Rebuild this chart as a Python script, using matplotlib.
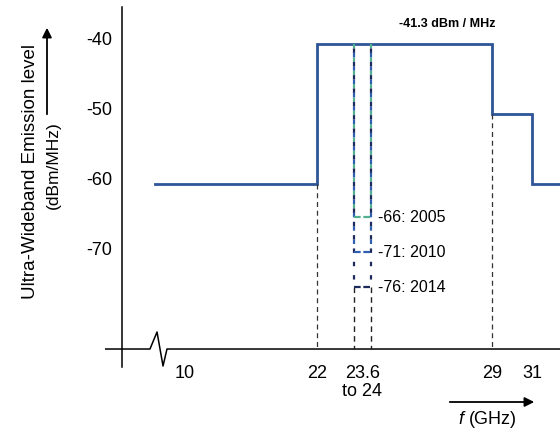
import numpy as np
import matplotlib.pyplot as plt

plt.rcParams['font.family'] = ['Liberation Sans', 'DejaVu Sans']
plt.rcParams['mathtext.fontset'] = 'custom'
plt.rcParams['mathtext.it'] = 'Liberation Sans:italic'
plt.rcParams['mathtext.rm'] = 'Liberation Sans'

# emission mask (GHz, dBm/MHz)
mask_edges = [5.24, 22, 29, 31, 34]
mask_levels = [-61.3, -41.3, -51.3, -61.3]

# 23.6 - 24 GHz protected band, level per year
band = [23.6, 24.0]
band_levels = [-66, -71, -76]
band_years = ['2005', '2010', '2014']
band_colors = ['#52b08e', '#2f5fae', '#1d2a5c']

x_ticks = [10, 22, 23.8, 29, 31]
x_labels = ['10', '22', '23.6\nto 24', '29', '31']
y_ticks = [-40, -50, -60, -70]

axis_level = -84.87

# schematic (non linear) frequency axis
f_anchor = [-21, 0, 10, 22, 23.6, 24, 29, 31, 33]
p_anchor = [0, 122, 185, 317, 354, 371, 492, 532, 560]


def fwd(f):
    return np.interp(f, f_anchor, p_anchor)


def inv(p):
    return np.interp(p, p_anchor, f_anchor)


fig = plt.figure(figsize=(5.6, 4.31), dpi=100)
ax = fig.add_axes([0, 0, 1, 1])
ax.set_xscale('function', functions=(fwd, inv))
ax.set_xlim(f_anchor[0], f_anchor[-1])
ax.set_ylim(-96.44, -34.87)
ax.axis('off')

# axes with break symbol
brk_f = [-2.8, 4.44, 5.56, 6.51, 7.14, 33]
brk_v = [axis_level, axis_level, -82.44, -87.3, axis_level, axis_level]
ax.plot(brk_f, brk_v, color='black', lw=1.1)
ax.plot([0, 0], [-87.4, -36.0], color='black', lw=1.1)

# main mask
xs, ys = [], []
for i, lv in enumerate(mask_levels):
    xs += [mask_edges[i], mask_edges[i + 1]]
    ys += [lv, lv]
ax.plot(xs, ys, color='#2e5597', lw=2.0, solid_joinstyle='miter')

# black dashed guides
dash = (0, (4, 3))
ax.plot([22, 22], [mask_levels[0], axis_level], color='#333333', lw=0.9, ls=dash)
ax.plot([29, 29], [mask_levels[2], axis_level], color='#333333', lw=0.9, ls=dash)
for b in band:
    ax.plot([b, b], [min(band_levels), axis_level], color='#222222', lw=1.0, ls=dash)

# protected band steps, vertical dashes interleaved so every colour shows
top = mask_levels[1]
for k, (lv, yr, c) in enumerate(zip(band_levels, band_years, band_colors)):
    for b in band:
        ax.plot([b, b], [top, lv], color=c, lw=1.6, ls=(k * 2.0, (2, 4)), zorder=3 + k)
    ax.plot(band, [lv, lv], color=c, lw=1.6, ls=(0, (3, 1.2)), zorder=6)
    ax.annotate('%d: %s' % (lv, yr), xy=(band[1], lv), xytext=(5, 0),
                textcoords='offset points', ha='left', va='center', fontsize=11.5)

ax.text(inv(447), -38.3, '-41.3 dBm / MHz', ha='center', va='center',
        fontsize=9, fontweight='bold')

# tick labels
for t, lab in zip(x_ticks, x_labels):
    ax.text(t, -87.0, lab, ha='center', va='top', fontsize=13, linespacing=1.1)
for t in y_ticks:
    ax.text(-1.72, t - 0.6, str(t), ha='right', va='center', fontsize=13)

# axis titles
fig.text(31 / 560, 1 - 172 / 431, 'Ultra-Wideband Emission level', rotation=90,
         ha='center', va='center', fontsize=13.5)
fig.text(53 / 560, 1 - 165 / 431, '(dBm/MHz)', rotation=90,
         ha='center', va='center', fontsize=12.5)
fig.text(487 / 560, 1 - 420 / 431, '$f$ (GHz)', ha='center', va='center', fontsize=13)

ax.annotate('', xy=(47, 431 - 26), xytext=(47, 431 - 118), xycoords='figure pixels',
            textcoords='figure pixels',
            arrowprops=dict(arrowstyle='-|>', color='black', lw=1.3, mutation_scale=14))
ax.annotate('', xy=(537, 28), xytext=(447, 28), xycoords='figure pixels',
            textcoords='figure pixels',
            arrowprops=dict(arrowstyle='-|>', color='black', lw=1.3, mutation_scale=14))

fig.savefig('out.png', dpi=100)
